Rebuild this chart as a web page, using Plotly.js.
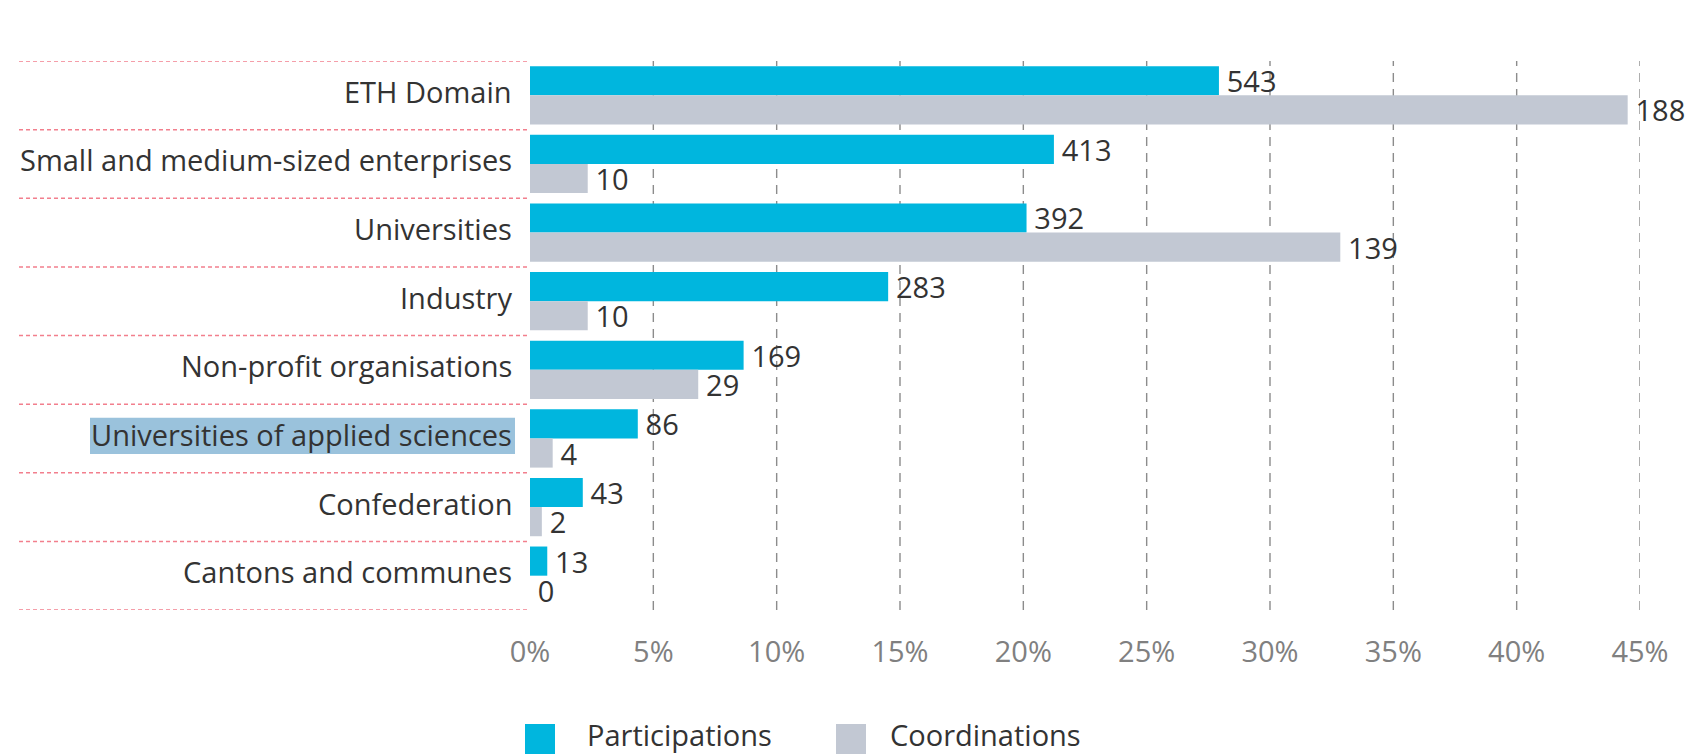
<!DOCTYPE html>
<html>
<head>
<meta charset="utf-8">
<script src="https://cdn.plot.ly/plotly-3.0.1.min.js"></script>
<style>html,body{margin:0;padding:0;background:#fff;}#chart{width:1688px;height:755px;}</style>
</head>
<body>
<div id="chart"></div>
<script>
// ---- data ----
const categories = ["ETH Domain", "Small and medium-sized enterprises", "Universities", "Industry",
  "Non-profit organisations", "Universities of applied sciences", "Confederation", "Cantons and communes"];
const participationsPct = [27.93, 21.24, 20.13, 14.52, 8.66, 4.37, 2.14, 0.70];
const participationsCount = [543, 413, 392, 283, 169, 86, 43, 13];
const coordinationsPct = [44.50, 2.34, 32.85, 2.34, 6.82, 0.92, 0.48, 0];
const coordinationsCount = [188, 10, 139, 10, 29, 4, 2, 0];
const seriesNames = ["Participations", "Coordinations"];
const seriesColors = ["#00b6de", "#c2c8d3"];
const tickValues = [0, 5, 10, 15, 20, 25, 30, 35, 40, 45];
const highlighted = "Universities of applied sciences";

// ---- layout geometry ----
const W = 1688, H = 755;
const M = {l: 530, r: 48, t: 61, b: 145};
const PW = W - M.l - M.r, PH = H - M.t - M.b;
const px2x = p => (p - M.l) / PW;
const px2y = p => (M.t + PH - p) / PH;
const FONT = "Open Sans, Noto Sans, sans-serif";

const traces = [
  {type: "bar", orientation: "h", name: seriesNames[0], y: categories, x: participationsPct,
   marker: {color: seriesColors[0]}, text: participationsCount.map(String),
   texttemplate: "\u2009%{text}", textposition: "outside", constraintext: "none", cliponaxis: false,
   textfont: {family: FONT, size: 29, color: "#333333"}, hoverinfo: "skip"},
  {type: "bar", orientation: "h", name: seriesNames[1], y: categories, x: coordinationsPct,
   marker: {color: seriesColors[1]}, text: coordinationsCount.map(String),
   texttemplate: "\u2009%{text}", textposition: "outside", constraintext: "none", cliponaxis: false,
   textfont: {family: FONT, size: 29, color: "#333333"}, hoverinfo: "skip"}
];

const shapes = [];
// vertical dashed gridlines (not at 0)
tickValues.filter(v => v > 0).forEach(v => shapes.push({
  type: "line", xref: "x", yref: "paper", x0: v, x1: v, y0: 0, y1: 1, layer: "below",
  line: {color: "#8c8c8c", width: 1.4, dash: "9px,7px"}
}));
// pink dashed separators in the label area
for (let i = 0; i <= categories.length; i++) {
  shapes.push({type: "line", xref: "paper", yref: "y", x0: px2x(19), x1: px2x(527), y0: i - 0.5, y1: i - 0.5,
    line: {color: "#f27f8d", width: 1.5, dash: "4px,3px"}});
}
// selection highlight behind one label
const hi = categories.indexOf(highlighted);
shapes.push({type: "rect", xref: "paper", yref: "y", x0: px2x(90), x1: px2x(515), y0: hi - 0.30, y1: hi + 0.225,
  fillcolor: "#9ac2dc", line: {width: 0}, layer: "below"});
// legend keys
const legendKeyX = [525, 836], legendTextX = [585, 888];
seriesNames.forEach((n, i) => shapes.push({type: "rect", xref: "paper", yref: "paper",
  x0: px2x(legendKeyX[i]), x1: px2x(legendKeyX[i] + 30), y0: px2y(724), y1: px2y(754),
  fillcolor: seriesColors[i], line: {width: 0}}));

const annotations = seriesNames.map((n, i) => ({
  xref: "paper", yref: "paper", x: px2x(legendTextX[i]), y: px2y(734), xanchor: "left", yanchor: "middle",
  text: n, showarrow: false, font: {family: FONT, size: 29, color: "#333333"}
}));
// category labels (right-aligned, left of the plot)
categories.forEach(c => annotations.push({
  xref: "paper", yref: "y", x: px2x(514), y: c, xanchor: "right", yanchor: "middle", yshift: 4,
  text: c, showarrow: false, font: {family: FONT, size: 29, color: "#333333"}
}));

const layout = {
  width: W, height: H, margin: M, paper_bgcolor: "#fff", plot_bgcolor: "#fff",
  barmode: "group", bargap: 0.15, bargroupgap: 0, showlegend: false,
  font: {family: FONT, size: 29, color: "#333333"},
  xaxis: {range: [0, 45], tickvals: tickValues, ticktext: tickValues.map(v => v + "%"),
    showgrid: false, zeroline: false, showline: false, ticks: "",
    tickfont: {family: FONT, size: 29, color: "#808080"}, ticklabelstandoff: 22, fixedrange: true},
  yaxis: {type: "category", categoryorder: "array", categoryarray: categories, range: [categories.length - 0.5, -0.5],
    showgrid: false, zeroline: false, showline: false, ticks: "", showticklabels: false, fixedrange: true},
  shapes: shapes, annotations: annotations
};

Plotly.newPlot("chart", traces, layout, {displayModeBar: false, staticPlot: true});
</script>
</body>
</html>
